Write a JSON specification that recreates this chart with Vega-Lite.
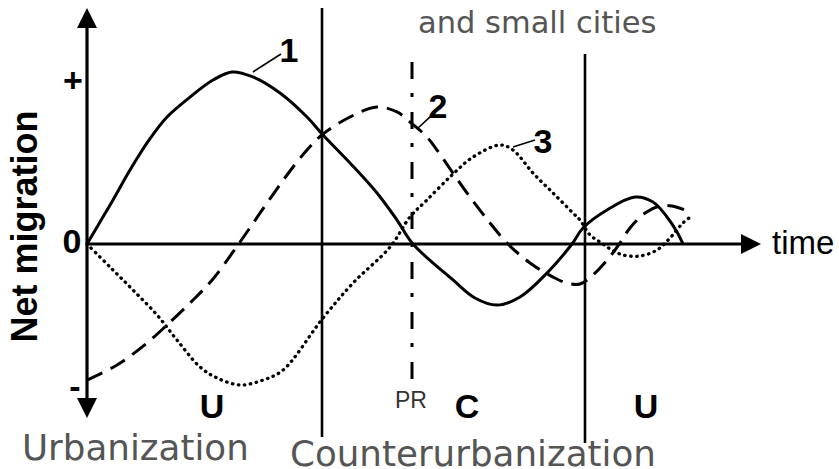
{
  "$schema": "https://vega.github.io/schema/vega-lite/v6.json",
  "width": 839,
  "height": 469,
  "autosize": {"type": "none"},
  "padding": 0,
  "background": "white",
  "config": {"view": {"stroke": null}},
  "datasets": {
    "curves": [
      {"curve": "1", "t": 0, "v": 0},
      {"curve": "1", "t": 1.3, "v": 0.136},
      {"curve": "1", "t": 2.6, "v": 0.272},
      {"curve": "1", "t": 4.3, "v": 0.457},
      {"curve": "1", "t": 6.3, "v": 0.65},
      {"curve": "1", "t": 8.0, "v": 0.784},
      {"curve": "1", "t": 10.3, "v": 0.907},
      {"curve": "1", "t": 12.6, "v": 1.012},
      {"curve": "1", "t": 14.5, "v": 1.062},
      {"curve": "1", "t": 16.6, "v": 1.031},
      {"curve": "1", "t": 19.3, "v": 0.932},
      {"curve": "1", "t": 22.0, "v": 0.784},
      {"curve": "1", "t": 23.6, "v": 0.673},
      {"curve": "1", "t": 26.3, "v": 0.5},
      {"curve": "1", "t": 29.0, "v": 0.315},
      {"curve": "1", "t": 31.0, "v": 0.148},
      {"curve": "1", "t": 32.6, "v": 0},
      {"curve": "1", "t": 36.6, "v": -0.222},
      {"curve": "1", "t": 38.8, "v": -0.333},
      {"curve": "1", "t": 41.0, "v": -0.377},
      {"curve": "1", "t": 43.3, "v": -0.327},
      {"curve": "1", "t": 46.0, "v": -0.179},
      {"curve": "1", "t": 48.5, "v": 0},
      {"curve": "1", "t": 49.6, "v": 0.099},
      {"curve": "1", "t": 52.0, "v": 0.21},
      {"curve": "1", "t": 54.8, "v": 0.29},
      {"curve": "1", "t": 56.6, "v": 0.259},
      {"curve": "1", "t": 58.0, "v": 0.167},
      {"curve": "1", "t": 59.0, "v": 0.074},
      {"curve": "1", "t": 59.6, "v": 0},
      {"curve": "2", "t": 0, "v": -0.84},
      {"curve": "2", "t": 3.0, "v": -0.747},
      {"curve": "2", "t": 6.0, "v": -0.611},
      {"curve": "2", "t": 8.0, "v": -0.5},
      {"curve": "2", "t": 10.6, "v": -0.346},
      {"curve": "2", "t": 12.6, "v": -0.216},
      {"curve": "2", "t": 14.6, "v": -0.049},
      {"curve": "2", "t": 16.0, "v": 0.074},
      {"curve": "2", "t": 18.0, "v": 0.253},
      {"curve": "2", "t": 20.0, "v": 0.426},
      {"curve": "2", "t": 22.0, "v": 0.58},
      {"curve": "2", "t": 23.6, "v": 0.679},
      {"curve": "2", "t": 26.3, "v": 0.784},
      {"curve": "2", "t": 29.0, "v": 0.846},
      {"curve": "2", "t": 31.0, "v": 0.815},
      {"curve": "2", "t": 32.3, "v": 0.753},
      {"curve": "2", "t": 34.0, "v": 0.66},
      {"curve": "2", "t": 35.0, "v": 0.58},
      {"curve": "2", "t": 36.6, "v": 0.438},
      {"curve": "2", "t": 38.3, "v": 0.29},
      {"curve": "2", "t": 40.3, "v": 0.13},
      {"curve": "2", "t": 42.0, "v": 0.006},
      {"curve": "2", "t": 44.3, "v": -0.117},
      {"curve": "2", "t": 46.6, "v": -0.204},
      {"curve": "2", "t": 48.0, "v": -0.241},
      {"curve": "2", "t": 49.3, "v": -0.247},
      {"curve": "2", "t": 50.6, "v": -0.191},
      {"curve": "2", "t": 52.5, "v": -0.062},
      {"curve": "2", "t": 53.3, "v": 0.006},
      {"curve": "2", "t": 54.3, "v": 0.099},
      {"curve": "2", "t": 55.8, "v": 0.191},
      {"curve": "2", "t": 57.3, "v": 0.235},
      {"curve": "2", "t": 58.5, "v": 0.235},
      {"curve": "2", "t": 59.8, "v": 0.21},
      {"curve": "3", "t": 0, "v": 0},
      {"curve": "3", "t": 2.3, "v": -0.142},
      {"curve": "3", "t": 4.6, "v": -0.284},
      {"curve": "3", "t": 7.0, "v": -0.438},
      {"curve": "3", "t": 9.0, "v": -0.593},
      {"curve": "3", "t": 11.3, "v": -0.759},
      {"curve": "3", "t": 13.0, "v": -0.827},
      {"curve": "3", "t": 15.3, "v": -0.87},
      {"curve": "3", "t": 17.6, "v": -0.84},
      {"curve": "3", "t": 19.6, "v": -0.778},
      {"curve": "3", "t": 23.6, "v": -0.457},
      {"curve": "3", "t": 26.6, "v": -0.241},
      {"curve": "3", "t": 30.3, "v": -0.019},
      {"curve": "3", "t": 32.3, "v": 0.167},
      {"curve": "3", "t": 34.0, "v": 0.272},
      {"curve": "3", "t": 36.5, "v": 0.426},
      {"curve": "3", "t": 38.6, "v": 0.537},
      {"curve": "3", "t": 41.3, "v": 0.611},
      {"curve": "3", "t": 42.6, "v": 0.58},
      {"curve": "3", "t": 44.6, "v": 0.438},
      {"curve": "3", "t": 46.6, "v": 0.315},
      {"curve": "3", "t": 48.6, "v": 0.191},
      {"curve": "3", "t": 49.3, "v": 0.148},
      {"curve": "3", "t": 50.3, "v": 0.056},
      {"curve": "3", "t": 51.3, "v": 0.012},
      {"curve": "3", "t": 52.5, "v": -0.037},
      {"curve": "3", "t": 53.6, "v": -0.068},
      {"curve": "3", "t": 55.3, "v": -0.074},
      {"curve": "3", "t": 57.0, "v": -0.037},
      {"curve": "3", "t": 58.3, "v": 0.037},
      {"curve": "3", "t": 59.6, "v": 0.13},
      {"curve": "3", "t": 60.6, "v": 0.179}
    ],
    "axes": [
      {"t": 0, "t2": 0, "v": 1.35, "v2": -0.98},
      {"t": 0, "t2": 65.6, "v": 0, "v2": 0}
    ],
    "bounds": [
      {"t": 23.5, "t2": 23.5, "v": 1.457, "v2": -1.191},
      {"t": 49.8, "t2": 49.8, "v": 1.173, "v2": -1.228}
    ],
    "pr": [
      {"t": 32.5, "t2": 32.5, "v": 1.123, "v2": -0.852}
    ],
    "leaders": [
      {"t": 16.6, "t2": 19.4, "v": 1.062, "v2": 1.173},
      {"t": 33.1, "t2": 34.5, "v": 0.716, "v2": 0.796},
      {"t": 42.6, "t2": 44.8, "v": 0.599, "v2": 0.642}
    ],
    "arrows": [
      {"dir": "up", "t": 0, "v": 1.395},
      {"dir": "down", "t": 0, "v": -1.012},
      {"dir": "right", "t": 66.4, "v": 0}
    ],
    "boldLabels": [
      {"label": "1", "t": 20.2, "v": 1.123},
      {"label": "2", "t": 35.1, "v": 0.778},
      {"label": "3", "t": 45.6, "v": 0.562},
      {"label": "U", "t": 12.5, "v": -1.074},
      {"label": "C", "t": 38.0, "v": -1.074},
      {"label": "U", "t": 55.9, "v": -1.074},
      {"label": "0", "t": -1.5, "v": -0.056}
    ],
    "signs": [
      {"label": "+", "t": -1.4, "v": 1.0},
      {"label": "-", "t": -1.2, "v": -0.889}
    ],
    "pr_label": [{"label": "PR", "t": 32.4, "v": -1.012}],
    "time_label": [{"label": "time", "t": 68.5, "v": -0.062}],
    "ytitle": [{"label": "Net migration", "t": -5.0, "v": 0.108}],
    "grayText": [
      {"label": "and small cities", "t": 33.1, "v": 1.302, "size": "s"},
      {"label": "Urbanization", "t": -6.5, "v": -1.333, "size": "l"},
      {"label": "Counterurbanization", "t": 20.3, "v": -1.37, "size": "l"}
    ]
  },
  "layer": [
    {
      "data": {"name": "axes"},
      "mark": {"type": "rule", "stroke": "black", "strokeWidth": 3.2},
      "encoding": {
        "x": {"field": "t", "type": "quantitative", "scale": {"domain": [-8.7, 75.2], "nice": false, "zero": false}, "axis": null},
        "x2": {"field": "t2"},
        "y": {"field": "v", "type": "quantitative", "scale": {"domain": [-1.3889, 1.5062], "nice": false, "zero": false}, "axis": null},
        "y2": {"field": "v2"}
      }
    },
    {
      "data": {"name": "bounds"},
      "mark": {"type": "rule", "stroke": "black", "strokeWidth": 2.6},
      "encoding": {
        "x": {"field": "t", "type": "quantitative", "axis": null},
        "x2": {"field": "t2"},
        "y": {"field": "v", "type": "quantitative", "axis": null},
        "y2": {"field": "v2"}
      }
    },
    {
      "data": {"name": "pr"},
      "mark": {"type": "rule", "stroke": "black", "strokeWidth": 3, "strokeDash": [17, 14, 4, 15]},
      "encoding": {
        "x": {"field": "t", "type": "quantitative", "axis": null},
        "x2": {"field": "t2"},
        "y": {"field": "v", "type": "quantitative", "axis": null},
        "y2": {"field": "v2"}
      }
    },
    {
      "data": {"name": "leaders"},
      "mark": {"type": "rule", "stroke": "black", "strokeWidth": 1.6},
      "encoding": {
        "x": {"field": "t", "type": "quantitative", "axis": null},
        "x2": {"field": "t2"},
        "y": {"field": "v", "type": "quantitative", "axis": null},
        "y2": {"field": "v2"}
      }
    },
    {
      "data": {"name": "curves"},
      "transform": [{"filter": "datum.curve === '1'"}],
      "mark": {"type": "line", "stroke": "black", "strokeWidth": 3, "interpolate": "catmull-rom"},
      "encoding": {
        "x": {"field": "t", "type": "quantitative", "axis": null},
        "y": {"field": "v", "type": "quantitative", "axis": null},
        "order": {"field": "t", "type": "quantitative"}
      }
    },
    {
      "data": {"name": "curves"},
      "transform": [{"filter": "datum.curve === '2'"}],
      "mark": {"type": "line", "stroke": "black", "strokeWidth": 3, "strokeDash": [17, 9], "interpolate": "catmull-rom"},
      "encoding": {
        "x": {"field": "t", "type": "quantitative", "axis": null},
        "y": {"field": "v", "type": "quantitative", "axis": null},
        "order": {"field": "t", "type": "quantitative"}
      }
    },
    {
      "data": {"name": "curves"},
      "transform": [{"filter": "datum.curve === '3'"}],
      "mark": {"type": "line", "stroke": "black", "strokeWidth": 3.3, "strokeDash": [0.5, 5.5], "strokeCap": "round", "interpolate": "catmull-rom"},
      "encoding": {
        "x": {"field": "t", "type": "quantitative", "axis": null},
        "y": {"field": "v", "type": "quantitative", "axis": null},
        "order": {"field": "t", "type": "quantitative"}
      }
    },
    {
      "data": {"name": "arrows"},
      "mark": {"type": "point", "filled": true, "fill": "black", "stroke": null, "size": 400, "opacity": 1},
      "encoding": {
        "x": {"field": "t", "type": "quantitative", "axis": null},
        "y": {"field": "v", "type": "quantitative", "axis": null},
        "shape": {"field": "dir", "type": "nominal", "legend": null,
          "scale": {"domain": ["up", "down", "right"], "range": ["M0,-1L1,1L-1,1Z", "M0,1L1,-1L-1,-1Z", "M1,0L-1,1L-1,-1Z"]}}
      }
    },
    {
      "data": {"name": "boldLabels"},
      "mark": {"type": "text", "font": "Liberation Sans", "fontWeight": "bold", "fontSize": 34, "align": "center", "baseline": "alphabetic", "fill": "black"},
      "encoding": {
        "x": {"field": "t", "type": "quantitative", "axis": null},
        "y": {"field": "v", "type": "quantitative", "axis": null},
        "text": {"field": "label"}
      }
    },
    {
      "data": {"name": "signs"},
      "mark": {"type": "text", "font": "Liberation Sans", "fontWeight": "bold", "fontSize": 34, "align": "center", "baseline": "middle", "fill": "black"},
      "encoding": {
        "x": {"field": "t", "type": "quantitative", "axis": null},
        "y": {"field": "v", "type": "quantitative", "axis": null},
        "text": {"field": "label"}
      }
    },
    {
      "data": {"name": "pr_label"},
      "mark": {"type": "text", "font": "Liberation Sans", "fontSize": 23, "align": "center", "baseline": "alphabetic", "fill": "#333333"},
      "encoding": {
        "x": {"field": "t", "type": "quantitative", "axis": null},
        "y": {"field": "v", "type": "quantitative", "axis": null},
        "text": {"field": "label"}
      }
    },
    {
      "data": {"name": "time_label"},
      "mark": {"type": "text", "font": "Liberation Sans", "fontSize": 33, "align": "left", "baseline": "alphabetic", "fill": "black"},
      "encoding": {
        "x": {"field": "t", "type": "quantitative", "axis": null},
        "y": {"field": "v", "type": "quantitative", "axis": null},
        "text": {"field": "label"}
      }
    },
    {
      "data": {"name": "ytitle"},
      "mark": {"type": "text", "font": "Liberation Sans", "fontWeight": "bold", "fontSize": 36, "angle": 270, "align": "center", "baseline": "alphabetic", "fill": "black"},
      "encoding": {
        "x": {"field": "t", "type": "quantitative", "axis": null},
        "y": {"field": "v", "type": "quantitative", "axis": null},
        "text": {"field": "label"}
      }
    },
    {
      "data": {"name": "grayText"},
      "transform": [{"filter": "datum.size === 's'"}],
      "mark": {"type": "text", "font": "DejaVu Sans", "fontSize": 30.5, "align": "left", "baseline": "alphabetic", "fill": "#555555"},
      "encoding": {
        "x": {"field": "t", "type": "quantitative", "axis": null},
        "y": {"field": "v", "type": "quantitative", "axis": null},
        "text": {"field": "label"}
      }
    },
    {
      "data": {"name": "grayText"},
      "transform": [{"filter": "datum.size === 'l'"}],
      "mark": {"type": "text", "font": "DejaVu Sans", "fontSize": 35.7, "align": "left", "baseline": "alphabetic", "fill": "#555555"},
      "encoding": {
        "x": {"field": "t", "type": "quantitative", "axis": null},
        "y": {"field": "v", "type": "quantitative", "axis": null},
        "text": {"field": "label"}
      }
    }
  ]
}
